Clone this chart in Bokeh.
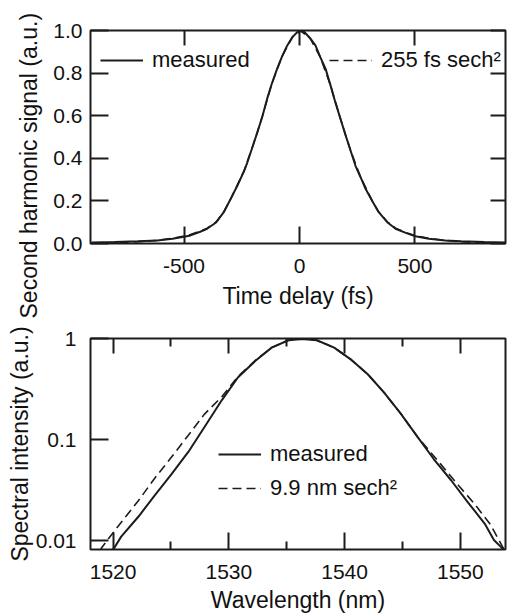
from bokeh.plotting import figure
from bokeh.layouts import column
from bokeh.models import (Range1d, LinearAxis, FixedTicker, Legend, LegendItem,
                          Title, CustomJSTickFormatter)
from bokeh.embed import file_html
from bokeh.resources import INLINE

FONT = "Liberation Sans"
INK = "#1c1c1c"

# ---------------- data: autocorrelation (top panel) ----------------
time_fs = [-900, -800, -700, -616, -550, -500, -472, -430, -400, -360, -328, -300,
           -270, -240, -226, -200, -183, -160, -140, -120, -97, -75, -53, -30, -10,
           5, 20, 45, 69, 90, 113, 135, 156, 178, 199, 220, 242, 265, 286, 315, 343,
           380, 416, 460, 502, 560, 632, 700, 800, 900]
sh_measured = [0.005, 0.007, 0.010, 0.014, 0.022, 0.032, 0.038, 0.055, 0.069, 0.100, 0.147, 0.205,
               0.270, 0.340, 0.380, 0.465, 0.520, 0.600, 0.680, 0.750, 0.820, 0.880, 0.930, 0.970, 0.992,
               0.998, 0.994, 0.965, 0.930, 0.875, 0.820, 0.740, 0.660, 0.583, 0.510, 0.440, 0.366, 0.310, 0.257, 0.200, 0.147,
               0.100, 0.069, 0.050, 0.034, 0.022, 0.014, 0.010, 0.007, 0.005]
time_fit_fs = [-900, -800, -700, -616, -550, -500, -472, -430, -400, -360, -328, -300,
               -270, -240, -200, -160, -120, -75, -30, 5, 45, 90, 135, 178, 220, 265,
               315, 343, 380, 416, 460, 502, 560, 632, 700, 800, 900]
sh_fit = [0.002, 0.004, 0.008, 0.015, 0.024, 0.035, 0.042, 0.058, 0.072, 0.102, 0.148, 0.205,
          0.272, 0.342, 0.465, 0.600, 0.750, 0.880, 0.970, 0.998, 0.965, 0.875, 0.740, 0.583, 0.440, 0.310,
          0.200, 0.148, 0.102, 0.072, 0.052, 0.036, 0.024, 0.015, 0.008, 0.004, 0.002]
time_ticks = [-500, 0, 500]
sh_ticks = [0.0, 0.2, 0.4, 0.6, 0.8, 1.0]

# ---------------- data: spectrum (bottom panel) ----------------
wl_measured = [1519.9, 1520.1, 1520.7, 1522.2, 1523.6, 1525.05, 1526.5, 1527.9, 1529.4,
               1530.8, 1532.3, 1533.7, 1535.15, 1536.3, 1537.6, 1539.1, 1540.5, 1542.0,
               1543.4, 1544.85, 1546.3, 1547.7, 1549.2, 1550.6, 1552.1, 1552.9, 1553.5, 1553.8]
spec_measured = [0.0080, 0.0085, 0.0110, 0.0174, 0.0282, 0.0457, 0.0759, 0.134, 0.248,
                 0.417, 0.607, 0.820, 0.970, 1.000, 0.970, 0.820, 0.631, 0.447,
                 0.295, 0.182, 0.107, 0.0646, 0.0398, 0.0245, 0.0148, 0.0102, 0.0087, 0.0080]
wl_fit = [1518.9, 1519.0, 1520.4, 1522.2, 1523.6, 1525.05, 1526.5, 1527.9, 1529.4,
          1530.8, 1532.3, 1533.7, 1535.15, 1536.4, 1537.6, 1539.1, 1540.5, 1542.0,
          1543.4, 1544.85, 1546.3, 1548.3, 1549.75, 1551.2, 1552.6, 1553.65, 1553.9]
spec_fit = [0.0080, 0.0085, 0.0138, 0.0251, 0.0417, 0.0676, 0.111, 0.180, 0.268,
            0.425, 0.615, 0.822, 0.970, 1.000, 0.970, 0.820, 0.631, 0.447,
            0.295, 0.182, 0.107, 0.0575, 0.0363, 0.0234, 0.0145, 0.0087, 0.0080]
wl_ticks = [1520, 1530, 1540, 1550]
wl_minor = [1525, 1535, 1545]
spec_ticks = [0.01, 0.1, 1]


def style_axis(ax, size="21px", standoff=8):
    ax.axis_line_color = None
    ax.major_tick_in = 17
    ax.major_tick_out = 0
    ax.major_tick_line_width = 2
    ax.major_tick_line_color = INK
    ax.minor_tick_in = 8
    ax.minor_tick_out = 0
    ax.minor_tick_line_width = 2
    ax.minor_tick_line_color = INK
    ax.major_label_text_font = FONT
    ax.major_label_text_font_size = size
    ax.major_label_text_color = "#111111"
    ax.major_label_standoff = standoff
    ax.axis_label_text_font = FONT
    ax.axis_label_text_font_size = "23px"
    ax.axis_label_text_font_style = "normal"
    ax.axis_label_text_color = "#111111"


def mirror(p, ticker, place):
    ax = LinearAxis(ticker=ticker, formatter=CustomJSTickFormatter(code="return ''"))
    style_axis(ax, size="10px", standoff=0)
    ax.major_tick_in = 15
    ax.axis_label = None
    p.add_layout(ax, place)


plain_fmt = CustomJSTickFormatter(code="return tick.toString()")
one_dec_fmt = CustomJSTickFormatter(code="return tick.toFixed(1)")

# ---------------- top panel ----------------
p1 = figure(width=508, height=322, x_range=Range1d(-905, 892), y_range=Range1d(0.0, 1.0),
            output_backend="svg", toolbar_location=None,
            min_border_left=90, min_border_right=3, min_border_top=30, min_border_bottom=79)
p1.grid.visible = False
p1.outline_line_color = INK
p1.outline_line_width = 2
p1.outline_line_alpha = 1
p1.background_fill_color = "white"
p1.border_fill_color = "white"

r_meas1 = p1.line(time_fs, sh_measured, line_color=INK, line_width=2)
r_fit1 = p1.line(time_fit_fs, sh_fit, line_color=INK, line_width=1.6, line_dash="9 5")

p1.xaxis.ticker = FixedTicker(ticks=time_ticks)
p1.xaxis.formatter = plain_fmt
p1.yaxis.ticker = FixedTicker(ticks=sh_ticks)
p1.yaxis.formatter = one_dec_fmt
style_axis(p1.xaxis[0], standoff=15)
style_axis(p1.yaxis[0], standoff=8)
p1.yaxis.major_tick_in = 18
p1.xaxis.axis_label = "Time delay (fs)"
p1.xaxis.axis_label_standoff = 7
mirror(p1, FixedTicker(ticks=time_ticks), "above")
mirror(p1, FixedTicker(ticks=sh_ticks), "right")

p1.add_layout(Title(text="Second harmonic signal (a.u.)", align="left", offset=-75,
                    standoff=18, text_font=FONT, text_font_size="23px",
                    text_font_style="normal", text_color="#111111"), "left")


def make_legend(items, loc, gh):
    lg = Legend(items=items, location=loc)
    lg.border_line_color = None
    lg.background_fill_alpha = 0
    lg.padding = 0
    lg.margin = 0
    lg.spacing = 0
    lg.label_standoff = 9
    lg.glyph_width = 43
    lg.glyph_height = gh
    lg.label_text_font = FONT
    lg.label_text_font_size = "22px"
    lg.label_text_color = "#111111"
    return lg


p1.add_layout(make_legend([LegendItem(label="measured", renderers=[r_meas1])], (10, 168), 30), "center")
p1.add_layout(make_legend([LegendItem(label="255 fs sech\u00b2", renderers=[r_fit1])], (239, 168), 30), "center")

# ---------------- bottom panel ----------------
p2 = figure(width=508, height=294, x_range=Range1d(1518.05, 1553.9), y_range=Range1d(0.0082, 1.01),
            y_axis_type="log", output_backend="svg", toolbar_location=None,
            min_border_left=90, min_border_right=3, min_border_top=16, min_border_bottom=67)
p2.grid.visible = False
p2.outline_line_color = INK
p2.outline_line_width = 2
p2.outline_line_alpha = 1
p2.background_fill_color = "white"
p2.border_fill_color = "white"

r_meas2 = p2.line(wl_measured, spec_measured, line_color=INK, line_width=2)
r_fit2 = p2.line(wl_fit, spec_fit, line_color=INK, line_width=1.6, line_dash="9 5")

p2.xaxis.ticker = FixedTicker(ticks=wl_ticks, minor_ticks=wl_minor)
p2.xaxis.formatter = plain_fmt
p2.yaxis.ticker = FixedTicker(ticks=spec_ticks)
p2.yaxis.formatter = plain_fmt
style_axis(p2.xaxis[0], standoff=15)
style_axis(p2.yaxis[0], standoff=14)
p2.xaxis.axis_label = "Wavelength (nm)"
p2.xaxis.axis_label_standoff = 5
p2.yaxis.axis_label = "Spectral intensity (a.u.)"
p2.yaxis.axis_label_standoff = 0
p2.yaxis.major_tick_in = 18
mirror(p2, FixedTicker(ticks=wl_ticks, minor_ticks=wl_minor), "above")

p2.add_layout(make_legend([LegendItem(label="measured", renderers=[r_meas2]),
                           LegendItem(label="9.9 nm sech\u00b2", renderers=[r_fit2])],
                          (128, 44), 34), "center")

layout = column(p1, p2, spacing=0)
open("out.html", "w").write(file_html(layout, INLINE))
